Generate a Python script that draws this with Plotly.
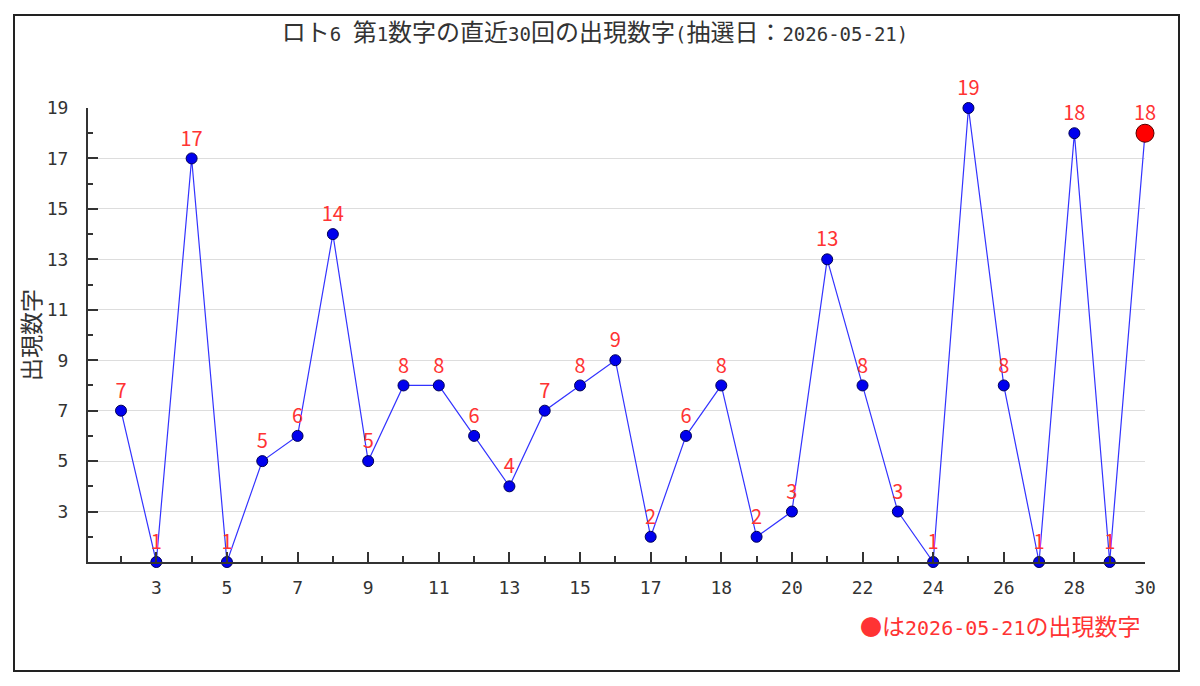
import plotly.graph_objects as go

# ---- data ----
draw_index = list(range(1, 31))
values = [7, 1, 17, 1, 5, 6, 14, 5, 8, 8, 6, 4, 7, 8, 9, 2, 6, 8, 2, 3, 13, 8, 3, 1, 19, 8, 1, 18, 1, 18]
x_tick_positions = [2, 4, 6, 8, 10, 12, 14, 16, 18, 20, 22, 24, 26, 28, 30]
x_tick_labels = ["3", "5", "7", "9", "11", "13", "15", "17", "18", "20", "22", "24", "26", "28", "30"]
y_tick_values = [3, 5, 7, 9, 11, 13, 15, 17, 19]
title_text = "ロト6 第1数字の直近30回の出現数字(抽選日：2026-05-21)"
y_title = "出現数字"
legend_text = "は2026-05-21の出現数字"

MONO = "DejaVu Sans Mono, Noto Sans CJK JP"
CJK = "Noto Sans CJK JP"
RED = "#ff3333"
DARK = "#333333"

# page body has an 8px offset; figure coordinates are page coords - 8
W, H = 1192, 678
L, R, T, B = 80, 55, 100, 124
PW, PH = W - L - R, H - T - B


def mixed(s, cjk_size):
    """Wrap runs of CJK characters in a span with a larger font size."""
    out, run, cur = [], "", None
    for ch in s:
        is_cjk = ord(ch) >= 0x2E80
        if cur is None or is_cjk == cur:
            run += ch
        else:
            out.append((cur, run))
            run = ch
        cur = is_cjk
    if run:
        out.append((cur, run))
    parts = []
    for is_cjk, r in out:
        if is_cjk:
            parts.append(f"<span style='font-size:{cjk_size}px;font-family:\"Noto Sans CJK JP\"'>{r}</span>")
        else:
            parts.append(r)
    return "".join(parts)


fig = go.Figure()

fig.add_trace(go.Scatter(
    x=draw_index, y=values,
    mode="lines+markers+text",
    line=dict(color="#3333ff", width=1.2),
    marker=dict(color="#0000ee", size=11, line=dict(color="#000055", width=1)),
    text=[str(v) for v in values],
    textposition="top center",
    textfont=dict(color=RED, size=20, family=CJK),
    cliponaxis=False,
    showlegend=False,
))

fig.add_trace(go.Scatter(
    x=[draw_index[-1]], y=[values[-1]],
    mode="markers",
    marker=dict(color="#ff0000", size=18, line=dict(color="#550000", width=1)),
    cliponaxis=False,
    showlegend=False,
))

fig.update_layout(
    width=W, height=H,
    paper_bgcolor="white", plot_bgcolor="white",
    margin=dict(l=L, r=R, t=T, b=B),
    font=dict(family=MONO, color=DARK),
    title=dict(text=mixed(title_text, 24), x=(595 - 8) / W, xref="container", xanchor="center",
               y=1 - 26 / H, yref="container", yanchor="middle",
               font=dict(size=19, family=MONO, color=DARK)),
    xaxis=dict(
        range=[0.065, 30], tickmode="array", tickvals=x_tick_positions, ticktext=x_tick_labels,
        showgrid=False, zeroline=False, showline=True, linecolor=DARK, linewidth=2,
        ticks="inside", ticklen=10, tickwidth=2, tickcolor=DARK,
        tickfont=dict(size=18, color=DARK, family=MONO), ticklabelstandoff=8,
        minor=dict(dtick=1, tick0=0, ticks="inside", ticklen=6, tickwidth=2, tickcolor=DARK),
    ),
    yaxis=dict(
        range=[1, 19], tickmode="array", tickvals=y_tick_values,
        showgrid=True, gridcolor="#dddddd", gridwidth=1, zeroline=False,
        showline=True, linecolor=DARK, linewidth=2,
        ticks="inside", ticklen=10, tickwidth=2, tickcolor=DARK,
        tickfont=dict(size=18, color=DARK, family=MONO), ticklabelstandoff=14,
        minor=dict(dtick=2, tick0=0, ticks="inside", ticklen=5, tickwidth=2, tickcolor=DARK,
                   showgrid=False),
    ),
    shapes=[dict(type="rect", xref="paper", yref="paper",
                 x0=(6 - L) / PW, x1=(1171 - L) / PW,
                 y0=-(663 - (H - B)) / PH, y1=(H - B - 7) / PH,
                 line=dict(color="#222222", width=2), fillcolor="rgba(0,0,0,0)", layer="below")],
    annotations=[
        dict(xref="paper", yref="paper", x=(22 - L) / PW, y=0.5,
             xanchor="center", yanchor="middle", showarrow=False, textangle=-90,
             text=y_title, font=dict(size=23, color=DARK, family=CJK)),
        dict(xref="paper", yref="paper", x=(1134 - L) / PW, y=-(617 - (H - B)) / PH,
             xanchor="right", yanchor="middle", showarrow=False,
             text="<span style='font-size:22px;font-family:\"Noto Sans CJK JP\"'>●</span>"
                  + mixed(legend_text, 23),
             font=dict(size=20, color=RED, family=MONO)),
    ],
)

fig.write_html("out.html")
